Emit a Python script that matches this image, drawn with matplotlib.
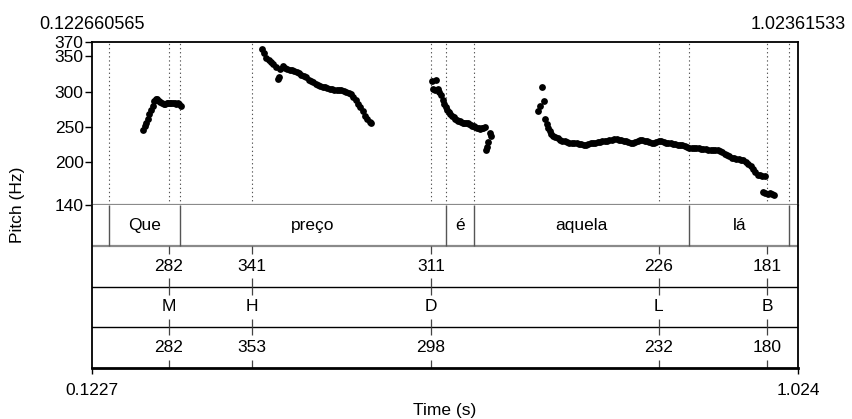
import matplotlib
matplotlib.use("Agg")
import matplotlib.pyplot as plt

plt.rcParams['font.family'] = ['Liberation Sans', 'DejaVu Sans']

# Time span of the sound (s)
T0 = 0.122660565
T1 = 1.02361533

# F0 track (time in s, pitch in Hz), one list pair per voiced stretch
seg1_t = [0.188, 0.190, 0.192, 0.194, 0.196, 0.198, 0.200, 0.202, 0.204, 0.206,
          0.208, 0.210, 0.212, 0.214, 0.216, 0.218, 0.220, 0.222, 0.224, 0.226,
          0.228, 0.230, 0.232, 0.234, 0.236]
seg1_f = [246, 251, 256, 262, 268, 274, 280, 287, 290, 289,
          287, 285, 284, 283, 283, 284, 284, 284, 284, 284,
          284, 283, 284, 282, 280]

seg2_t = [0.339, 0.342, 0.345, 0.348, 0.351, 0.354, 0.357, 0.360, 0.361, 0.363,
          0.366, 0.369, 0.372, 0.375, 0.378, 0.381, 0.384, 0.387, 0.390, 0.393,
          0.396, 0.399, 0.402, 0.405, 0.408, 0.411, 0.414, 0.417, 0.420, 0.423,
          0.426, 0.429, 0.432, 0.435, 0.438, 0.441, 0.444, 0.447, 0.450, 0.453,
          0.456, 0.459, 0.462, 0.465, 0.468, 0.471, 0.474, 0.477, 0.479]
seg2_f = [360, 354, 348, 345, 342, 339, 335, 318, 320, 332,
          336, 334, 332, 331, 330, 329, 327, 326, 324, 322,
          320, 317, 315, 313, 311, 309, 308, 307, 306, 305,
          304, 303, 302, 302, 302, 302, 301, 300, 298, 296,
          292, 288, 283, 278, 272, 266, 261, 257, 255]

seg3_t = [0.556, 0.558, 0.560, 0.562, 0.564, 0.566, 0.568, 0.570, 0.572, 0.574,
          0.576, 0.578, 0.580, 0.582, 0.584, 0.586, 0.588, 0.590, 0.592, 0.594,
          0.596, 0.598, 0.600, 0.602, 0.604, 0.606, 0.608, 0.610, 0.612, 0.614,
          0.616, 0.618, 0.620, 0.622, 0.624, 0.626, 0.627, 0.628, 0.630, 0.632]
seg3_f = [315, 304, 302, 317, 303, 299, 295, 288, 282, 278,
          274, 271, 268, 266, 264, 262, 260, 259, 258, 257,
          256, 256, 255, 255, 254, 253, 252, 251, 250, 249,
          248, 247, 248, 249, 250, 218, 222, 229, 241, 238]

seg4_t = [0.692, 0.694, 0.6965, 0.699, 0.701, 0.703, 0.705, 0.707, 0.709, 0.711,
          0.714, 0.717, 0.720, 0.723, 0.726, 0.729, 0.732, 0.735, 0.738, 0.741,
          0.744, 0.747, 0.750, 0.753, 0.756, 0.759, 0.762, 0.765, 0.768, 0.771,
          0.774, 0.777, 0.780, 0.783, 0.786, 0.789, 0.792, 0.795, 0.798, 0.801,
          0.804, 0.807, 0.810, 0.813, 0.816, 0.819, 0.822, 0.825, 0.828, 0.831,
          0.834, 0.837, 0.840, 0.843, 0.846, 0.849, 0.852, 0.855, 0.858, 0.861,
          0.864, 0.867, 0.870, 0.873, 0.876, 0.879, 0.882, 0.885, 0.888, 0.891,
          0.894, 0.897, 0.900, 0.903, 0.906, 0.909, 0.912, 0.915, 0.918, 0.921,
          0.924, 0.927, 0.930, 0.933, 0.936, 0.939, 0.942, 0.945, 0.948, 0.951,
          0.954, 0.957, 0.960, 0.963, 0.966, 0.969, 0.972, 0.975, 0.978, 0.981,
          0.9795, 0.982, 0.985, 0.988, 0.990, 0.993]
seg4_f = [272, 280, 306, 287, 262, 254, 248, 244, 240, 238,
          236, 234, 232, 231, 230, 229, 228, 228, 227, 227,
          226, 226, 225, 225, 226, 227, 227, 228, 229, 229,
          230, 231, 231, 232, 232, 233, 233, 232, 232, 231,
          230, 229, 228, 228, 229, 231, 232, 232, 231, 230,
          229, 228, 228, 229, 230, 230, 229, 228, 228, 227,
          226, 226, 225, 224, 224, 223, 222, 221, 221, 220,
          220, 220, 219, 219, 219, 218, 218, 218, 217, 217,
          216, 215, 212, 210, 209, 207, 206, 205, 205, 204,
          203, 201, 198, 195, 191, 186, 183, 182, 181, 181,
          158, 157, 156, 157, 155, 154]

# Word tier: interval boundaries and labels
word_bounds = [0.1447, 0.2353, 0.5741, 0.6106, 0.8849, 1.0126]
words = ["Que", "preço", "é", "aquela", "lá"]

# Tone tiers: point times, measured F0, tone labels, target F0
tone_times = [0.2209, 0.3269, 0.5553, 0.8459, 0.9845]
tone_f0_measured = [282, 341, 311, 226, 181]
tone_labels = ["M", "H", "D", "L", "B"]
tone_f0_target = [282, 353, 298, 232, 180]

pitch_ticks = [140, 200, 250, 300, 350, 370]
F_MIN, F_MAX = 140, 370

W, H = 853, 419
fig = plt.figure(figsize=(W / 100, H / 100), dpi=100)


def fy(px):
    return 1 - px / H


left, right = 92, 798
ax = fig.add_axes([left / W, fy(205), (right - left) / W, (205 - 42) / H])
tx = fig.add_axes([left / W, fy(368), (right - left) / W, (368 - 205) / H], sharex=ax)

FS = 12.5
GRAY = '#8a8a8a'

# --- pitch panel ---
ax.set_xlim(T0, T1)
ax.set_ylim(F_MIN, F_MAX)
for s in ('top', 'left', 'right'):
    ax.spines[s].set_color('black')
    ax.spines[s].set_linewidth(1.3)
ax.spines['bottom'].set_color(GRAY)
ax.spines['bottom'].set_linewidth(1.6)
ax.set_yticks(pitch_ticks)
ax.set_yticklabels([str(v) for v in pitch_ticks], fontsize=FS)
ax.tick_params(axis='y', direction='out', length=5, width=1, pad=1)
ax.tick_params(axis='x', bottom=False, labelbottom=False)

ax.vlines(word_bounds + tone_times, F_MIN, F_MAX, colors='#555555',
          linewidth=0.8, linestyles=(0, (1.2, 2.5)), zorder=1)

for t, f in [(seg1_t, seg1_f), (seg2_t, seg2_f), (seg3_t, seg3_f), (seg4_t, seg4_f)]:
    ax.plot(t, f, 'o', color='black', markersize=4.9, markeredgewidth=0, zorder=3)

ax.annotate(f"{T0}", xy=(T0, 1), xycoords=('data', 'axes fraction'),
            xytext=(0, 13), textcoords='offset pixels', ha='center', va='baseline',
            fontsize=FS + 0.5)
ax.annotate(f"{T1}", xy=(T1, 1), xycoords=('data', 'axes fraction'),
            xytext=(0, 13), textcoords='offset pixels', ha='center', va='baseline',
            fontsize=FS + 0.5)

# --- annotation tiers ---
tx.set_ylim(4, 0)
tx.set_yticks([])
tx.spines['top'].set_visible(False)
for s in ('left', 'right'):
    tx.spines[s].set_color('black')
    tx.spines[s].set_linewidth(1.3)
tx.spines['bottom'].set_color('black')
tx.spines['bottom'].set_linewidth(2.0)
tx.set_xticks([T0, T1])
tx.set_xticklabels([f"{T0:.4f}", f"{T1:.3f}"], fontsize=FS)
tx.tick_params(axis='x', direction='out', length=4, width=1, pad=7)

tx.axhline(1, color=GRAY, linewidth=1.6)
tx.axhline(2, color='black', linewidth=1.0)
tx.axhline(3, color='black', linewidth=1.0)

tx.vlines(word_bounds, 0, 1, colors='#555555', linewidth=1.0)
for a, b, w in zip(word_bounds[:-1], word_bounds[1:], words):
    tx.text((a + b) / 2, 0.5, w, ha='center', va='center', fontsize=FS)

for row, labels in enumerate([[str(v) for v in tone_f0_measured], tone_labels,
                              [str(v) for v in tone_f0_target]], start=1):
    tx.vlines(tone_times, row, row + 0.2, colors='#444444', linewidth=0.9)
    tx.vlines(tone_times, row + 0.8, row + 1, colors='#444444', linewidth=0.9)
    for t, lab in zip(tone_times, labels):
        tx.text(t, row + 0.5, lab, ha='center', va='center', fontsize=FS)

fig.text(18 / W, fy(205), "Pitch (Hz)", rotation=90, ha='center', va='center', fontsize=FS)
fig.text((left + right) / 2 / W, fy(410), "Time (s)", ha='center', va='center', fontsize=FS)

fig.savefig("out.png", dpi=100)
